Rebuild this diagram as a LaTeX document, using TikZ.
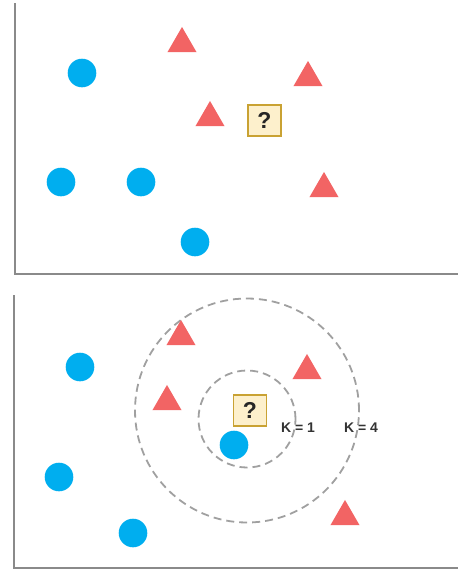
\documentclass[tikz,border=0pt]{standalone}
\usepackage{fontspec}
\setmainfont{Liberation Sans}
\usetikzlibrary{shapes.geometric}
\definecolor{dotblue}{HTML}{00AEEF}
\definecolor{trired}{HTML}{F26464}
\definecolor{axisgray}{HTML}{8A8A8A}
\definecolor{dashgray}{HTML}{A0A0A0}
\definecolor{boxfill}{HTML}{FDF0CC}
\definecolor{boxedge}{HTML}{C9A233}
\tikzset{
  dot/.style={circle, fill=dotblue, draw=none, minimum size=28.6pt, inner sep=0pt},
  tri/.style={regular polygon, regular polygon sides=3, fill=trired, draw=none, minimum size=33.5pt, inner sep=0pt},
  qbox/.style={rectangle, fill=boxfill, draw=boxedge, line width=1.8pt, minimum width=33pt, minimum height=31pt, inner sep=0pt, font=\bfseries\fontsize{23}{23}\selectfont, text=black!85},
  axis/.style={draw=axisgray, line width=2.4pt},
  ring/.style={circle, draw=dashgray, line width=1.8pt, dash pattern=on 8pt off 5pt, inner sep=0pt},
  klabel/.style={font=\bfseries\fontsize{14}{14}\selectfont, text=black!80, inner sep=0pt}
}
\begin{document}
\begin{tikzpicture}[x=1pt,y=-1pt]
\useasboundingbox (0,0) rectangle (458,571);
% top panel
\coordinate (ta1) at (15,3);
\coordinate (ta0) at (15,274);
\coordinate (ta2) at (458,274);
\draw[axis] (ta1) -- (ta0) -- (ta2);
\node[tri] (t1) at (182,43.7) {};
\node[tri] (t2) at (308,77.7) {};
\node[tri] (t3) at (210,117.7) {};
\node[tri] (t4) at (324,188.7) {};
\node[dot] (c1) at (82,73) {};
\node[dot] (c2) at (61,182) {};
\node[dot] (c3) at (141,182) {};
\node[dot] (c4) at (195,242) {};
\node[qbox] (q1) at (264.5,120.5) {?};
% bottom panel
\coordinate (ba1) at (14,295);
\coordinate (ba0) at (14,568);
\coordinate (ba2) at (458,568);
\draw[axis] (ba1) -- (ba0) -- (ba2);
\node[ring, minimum size=224pt] (r4) at (247,410.5) {};
\node[ring, minimum size=97pt] (r1) at (247,419) {};
\node[tri] (u1) at (181,336.7) {};
\node[tri] (u2) at (307,370.7) {};
\node[tri] (u3) at (167,401.7) {};
\node[tri] (u4) at (345,516.7) {};
\node[dot] (d1) at (80,367) {};
\node[dot] (d2) at (59,477) {};
\node[dot] (d3) at (133,533) {};
\node[dot] (d4) at (234,445) {};
\node[qbox] (q2) at (250,410.5) {?};
\node[klabel] (k1) at (298,428) {K = 1};
\node[klabel] (k4) at (361,428) {K = 4};
\end{tikzpicture}
\end{document}
